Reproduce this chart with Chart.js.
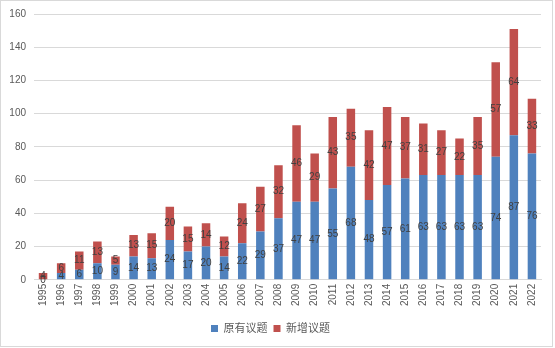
<!DOCTYPE html>
<html>
<head>
<meta charset="utf-8">
<script src="https://cdn.jsdelivr.net/npm/chart.js@4"></script>
<style>
  html, body { margin: 0; padding: 0; background: #fff; }
  #wrap { width: 555px; height: 348px; }
</style>
</head>
<body>
<div id="wrap"><canvas id="myCanvas" width="555" height="348"></canvas></div>
<script>
const years = ['1995','1996','1997','1998','1999','2000','2001','2002','2003','2004',
  '2005','2006','2007','2008','2009','2010','2011','2012','2013','2014',
  '2015','2016','2017','2018','2019','2020','2021','2022'];
const existingTopics = [0,4,6,10,9,14,13,24,17,20,14,22,29,37,47,47,55,68,48,57,61,63,63,63,63,74,87,76];
const newTopics = [4,6,11,13,5,13,15,20,15,14,12,24,27,32,46,29,43,35,42,47,37,31,27,22,35,57,64,33];
const yTicks = [0,20,40,60,80,100,120,140,160];

const fontFamily = '"Liberation Sans", "Noto Sans CJK SC", sans-serif';

// value labels centred inside each stacked segment
const segmentLabels = {
  id: 'segmentLabels',
  afterDatasetsDraw(chart) {
    const ctx = chart.ctx;
    ctx.save();
    ctx.font = '10px ' + fontFamily;
    ctx.fillStyle = '#404040';
    ctx.textAlign = 'center';
    ctx.textBaseline = 'middle';
    chart.data.datasets.forEach((ds, i) => {
      chart.getDatasetMeta(i).data.forEach((bar, j) => {
        const midY = (bar.y + bar.base) / 2;
        ctx.fillText(String(ds.data[j]), bar.x, midY);
      });
    });
    ctx.restore();
  }
};

// thin outer frame
const frame = {
  id: 'frame',
  beforeDraw(chart) {
    const ctx = chart.ctx;
    ctx.save();
    ctx.strokeStyle = '#d9d9d9';
    ctx.lineWidth = 1;
    ctx.strokeRect(0.5, 0.5, 552, 346);
    ctx.restore();
  }
};

const ctx = document.getElementById('myCanvas').getContext('2d');
const chart = new Chart(ctx, {
  type: 'bar',
  data: {
    labels: years,
    datasets: [{
      label: '原有议题',
      data: existingTopics,
      backgroundColor: '#4f81bd',
      barPercentage: 0.47,
      categoryPercentage: 1
    }, {
      label: '新增议题',
      data: newTopics,
      backgroundColor: '#c0504d',
      barPercentage: 0.47,
      categoryPercentage: 1
    }]
  },
  options: {
    responsive: false,
    animation: false,
    layout: { padding: { left: 0, right: 14, top: 10, bottom: 4 } },
    scales: {
      x: {
        stacked: true,
        grid: { display: false, drawTicks: false },
        border: { color: '#d9d9d9' },
        afterFit(scale) { scale.height += 7; },
        ticks: {
          color: '#595959',
          font: { family: fontFamily, size: 10 },
          minRotation: 90,
          maxRotation: 90,
          padding: 4,
          autoSkip: false
        }
      },
      y: {
        stacked: true,
        min: 0,
        max: 160,
        afterBuildTicks(scale) { scale.ticks = yTicks.map(v => ({ value: v })); },
        afterFit(scale) { scale.width = 34; },
        grid: { color: '#d9d9d9', drawTicks: false },
        border: { display: false },
        ticks: {
          color: '#595959',
          font: { family: fontFamily, size: 10 },
          padding: 8
        }
      }
    },
    plugins: {
      legend: {
        position: 'bottom',
        labels: {
          boxWidth: 7,
          boxHeight: 7,
          padding: 6,
          color: '#595959',
          font: { family: fontFamily, size: 11 }
        }
      },
      tooltip: { enabled: false }
    }
  },
  plugins: [segmentLabels, frame]
});
</script>
</body>
</html>
